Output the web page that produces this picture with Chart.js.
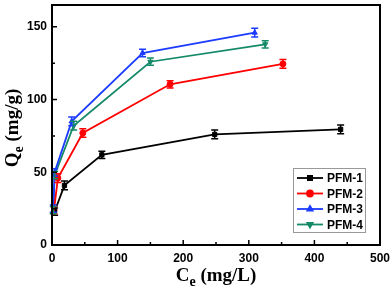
<!DOCTYPE html>
<html>
<head>
<meta charset="utf-8">
<script src="https://cdn.jsdelivr.net/npm/chart.js@4"></script>
<style>
  html, body { margin: 0; padding: 0; background: #fff; }
  #wrap { width: 392px; height: 288px; }
</style>
</head>
<body>
<div id="wrap"><canvas id="c" width="392" height="288"></canvas></div>
<script>
// data
const seriesNames = ['PFM-1', 'PFM-2', 'PFM-3', 'PFM-4'];
const ce1 = [4, 19, 76, 248, 440];
const qe1 = [23, 41, 62, 76, 79.5];
const err1 = [2.5, 3, 2.5, 3, 3];
const ce2 = [3, 9, 47, 180, 352];
const qe2 = [24, 46, 77, 110.5, 124.5];
const err2 = [2.5, 3, 3, 2.5, 3];
const ce3 = [2, 4, 30, 138, 309];
const qe3 = [25, 50, 85, 132, 146];
const err3 = [2.5, 2.5, 3, 2.5, 3];
const ce4 = [2, 4, 33, 150, 325];
const qe4 = [24, 48, 82, 126, 138];
const err4 = [2.5, 2.5, 3, 2.5, 2.5];
const xTicks = [0, 100, 200, 300, 400, 500];
const yTicks = [0, 50, 100, 150];

const colors = ['#000000', '#ff0000', '#1c3cff', '#158a68'];
const shapes = ['rect', 'circle', 'triangle', 'triangle'];
const rotations = [0, 0, 0, 180];

function pts(xs, ys) {
    return xs.map((x, i) => ({ x: x, y: ys[i] }));
}

const allData = [pts(ce1, qe1), pts(ce2, qe2), pts(ce3, qe3), pts(ce4, qe4)];
const allErr = [err1, err2, err3, err4];

const datasets = allData.map((d, i) => ({
    label: seriesNames[i],
    data: d,
    borderColor: colors[i],
    backgroundColor: colors[i],
    borderWidth: 1.8,
    pointStyle: shapes[i],
    pointRotation: rotations[i],
    pointRadius: 3,
    pointBorderWidth: 1,
    showLine: true,
    tension: 0
}));

// error bars
const errorBars = {
    id: 'errorBars',
    afterDatasetsDraw(chart) {
        const ctx = chart.ctx;
        const xs = chart.scales.x, ys = chart.scales.y;
        ctx.save();
        allData.forEach((d, i) => {
            ctx.strokeStyle = colors[i];
            ctx.lineWidth = 1.5;
            d.forEach((p, j) => {
                const px = xs.getPixelForValue(p.x);
                const top = ys.getPixelForValue(p.y + allErr[i][j]);
                const bot = ys.getPixelForValue(p.y - allErr[i][j]);
                ctx.beginPath();
                ctx.moveTo(px, top); ctx.lineTo(px, bot);
                ctx.moveTo(px - 3.5, top); ctx.lineTo(px + 3.5, top);
                ctx.moveTo(px - 3.5, bot); ctx.lineTo(px + 3.5, bot);
                ctx.stroke();
            });
        });
        ctx.restore();
    }
};

// frame, inward ticks, axis titles, legend
const decor = {
    id: 'decor',
    afterDraw(chart) {
        const ctx = chart.ctx;
        const a = chart.chartArea;
        const xs = chart.scales.x, ys = chart.scales.y;
        ctx.save();
        ctx.strokeStyle = '#000';
        ctx.lineWidth = 2;
        ctx.strokeRect(a.left, a.top, a.right - a.left, a.bottom - a.top);

        ctx.lineWidth = 1.5;
        ctx.beginPath();
        for (let v = 0; v <= 500; v += 50) {
            const px = xs.getPixelForValue(v);
            const len = v % 100 === 0 ? 5 : 3;
            ctx.moveTo(px, a.bottom); ctx.lineTo(px, a.bottom - len);
        }
        for (let v = 0; v <= 150; v += 25) {
            const py = ys.getPixelForValue(v);
            const len = v % 50 === 0 ? 5 : 3;
            ctx.moveTo(a.left, py); ctx.lineTo(a.left + len, py);
        }
        ctx.stroke();

        // axis titles with subscript e
        ctx.fillStyle = '#000';
        ctx.textBaseline = 'alphabetic';
        const big = 'bold 19px "Liberation Serif", "Times New Roman", serif';
        const small = 'bold 14px "Liberation Serif", "Times New Roman", serif';
        function title(main, sub, rest) {
            ctx.font = big;
            const w1 = ctx.measureText(main).width;
            const w3 = ctx.measureText(rest).width;
            ctx.font = small;
            const w2 = ctx.measureText(sub).width;
            const total = w1 + w2 + w3;
            let x = -total / 2;
            ctx.font = big;
            ctx.fillText(main, x, 0);
            x += w1;
            ctx.font = small;
            ctx.fillText(sub, x, 5);
            x += w2;
            ctx.font = big;
            ctx.fillText(rest, x, 0);
        }
        ctx.save();
        ctx.translate((a.left + a.right) / 2, 281);
        title('C', 'e', ' (mg/L)');
        ctx.restore();

        ctx.save();
        ctx.translate(18, 128);
        ctx.rotate(-Math.PI / 2);
        title('Q', 'e', ' (mg/g)');
        ctx.restore();

        // legend box
        const lx = 293, ly = 168, lw = 72, lh = 64;
        ctx.fillStyle = '#fff';
        ctx.fillRect(lx, ly, lw, lh);
        ctx.strokeStyle = '#999';
        ctx.lineWidth = 1;
        ctx.strokeRect(lx + 0.5, ly + 0.5, lw, lh);
        ctx.font = 'bold 12px "Liberation Sans", Arial, sans-serif';
        ctx.textBaseline = 'middle';
        seriesNames.forEach((name, i) => {
            const y = 178 + i * 15.5;
            ctx.strokeStyle = colors[i];
            ctx.lineWidth = 1.8;
            ctx.beginPath();
            ctx.moveTo(297, y); ctx.lineTo(323, y);
            ctx.stroke();
            ctx.fillStyle = colors[i];
            Chart.helpers.drawPoint(ctx, {
                pointStyle: shapes[i], rotation: rotations[i], radius: 3, borderWidth: 1
            }, 310, y);
            ctx.fill();
            ctx.fillStyle = '#000';
            ctx.fillText(name, 327, y + 1);
        });
        ctx.restore();
    }
};

new Chart(document.getElementById('c'), {
    type: 'scatter',
    data: { datasets: datasets },
    options: {
        responsive: false,
        animation: false,
        layout: { padding: { top: 2, right: 12, left: 0, bottom: 0 } },
        plugins: { legend: { display: false }, tooltip: { enabled: false } },
        scales: {
            x: {
                type: 'linear', min: 0, max: 500,
                afterBuildTicks: s => { s.ticks = xTicks.map(v => ({ value: v })); },
                afterFit: s => { s.height = 43; s.paddingLeft = 0; s.paddingRight = 0; },
                grid: { display: false, drawTicks: false },
                border: { display: false },
                ticks: {
                    color: '#000', padding: 6,
                    font: { family: '"Liberation Sans", Arial, sans-serif', size: 12, weight: 'bold' }
                }
            },
            y: {
                type: 'linear', min: 0, max: 165,
                afterBuildTicks: s => { s.ticks = yTicks.map(v => ({ value: v })); },
                afterFit: s => { s.width = 52; s.paddingTop = 0; s.paddingBottom = 0; },
                grid: { display: false, drawTicks: false },
                border: { display: false },
                ticks: {
                    color: '#000', padding: 5,
                    font: { family: '"Liberation Sans", Arial, sans-serif', size: 12, weight: 'bold' }
                }
            }
        }
    },
    plugins: [errorBars, decor]
});
</script>
</body>
</html>
